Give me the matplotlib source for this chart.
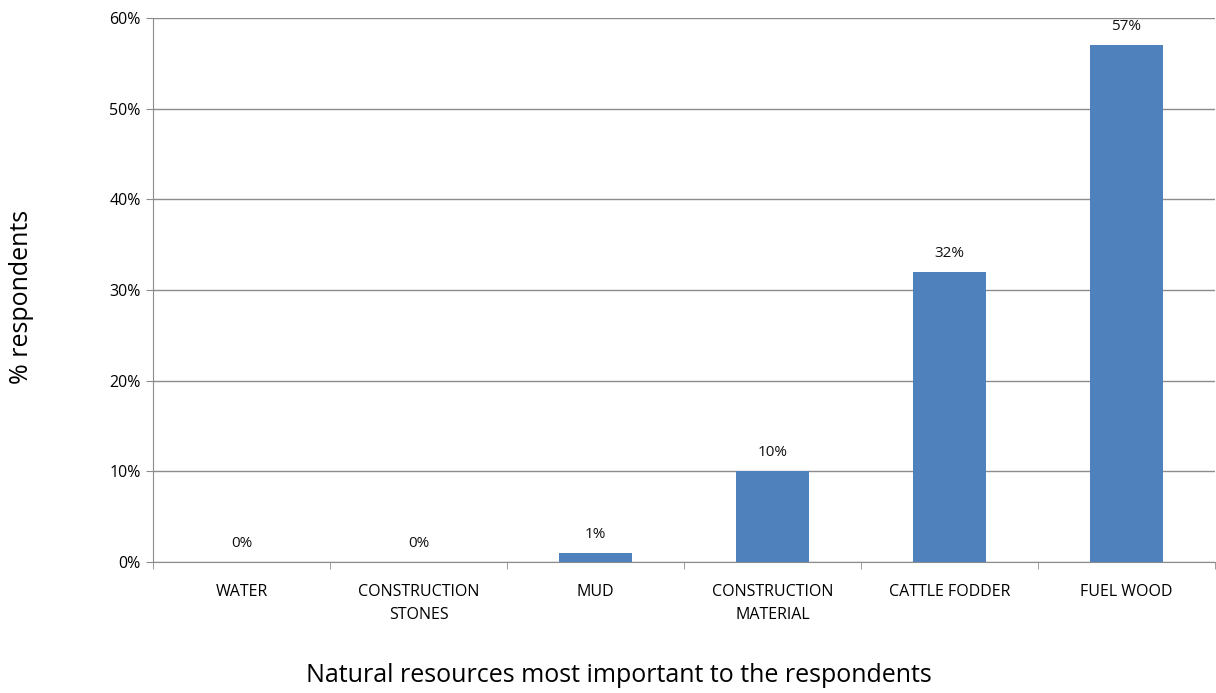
import matplotlib.pyplot as plt
import numpy as np

categories = ["WATER", "CONSTRUCTION\nSTONES", "MUD", "CONSTRUCTION\nMATERIAL",
              "CATTLE FODDER", "FUEL WOOD"]
values = [0, 0, 1, 10, 32, 57]
yticks = [0, 10, 20, 30, 40, 50, 60]

plt.rcParams['font.family'] = ['Open Sans', 'DejaVu Sans']

fig = plt.figure(figsize=(12.16, 6.93), dpi=100)
ax = fig.add_axes([153 / 1216, 131 / 693, 1062 / 1216, 544 / 693])

x = np.arange(len(categories))
ax.bar(x, values, width=0.41, color="#4F81BD", zorder=3)

for xi, v in zip(x, values):
    ax.annotate(f"{v}%", (xi, v), xytext=(0, 8), textcoords="offset points",
                ha="center", va="bottom", fontsize=11, color="#111111")

ax.set_xlim(-0.5, len(categories) - 0.5)
ax.set_ylim(0, 60)
ax.set_yticks(yticks)
ax.set_yticklabels([f"{t}%" for t in yticks], fontsize=11.5)
ax.yaxis.grid(True, color="#8c8c8c", linewidth=1, zorder=0)

ax.set_xticks(x)
ax.set_xticklabels(categories, fontsize=11.5, linespacing=1.55)
ax.set_xticks(np.arange(-0.5, len(categories)), minor=True)
ax.tick_params(axis="x", which="major", length=0, pad=16)
ax.tick_params(axis="x", which="minor", length=5, color="#8c8c8c")
ax.tick_params(axis="y", length=5, color="#8c8c8c", pad=4)

for side in ["top", "right"]:
    ax.spines[side].set_visible(False)
for side in ["left", "bottom"]:
    ax.spines[side].set_color("#8c8c8c")

fig.text(619 / 1216, 1 - 675 / 693, "Natural resources most important to the respondents",
         fontsize=18, ha="center", va="center")
fig.text(22 / 1216, 1 - 297 / 693, "% respondents", fontsize=18, rotation=90,
         ha="center", va="center")

fig.savefig("out.png", dpi=100)
